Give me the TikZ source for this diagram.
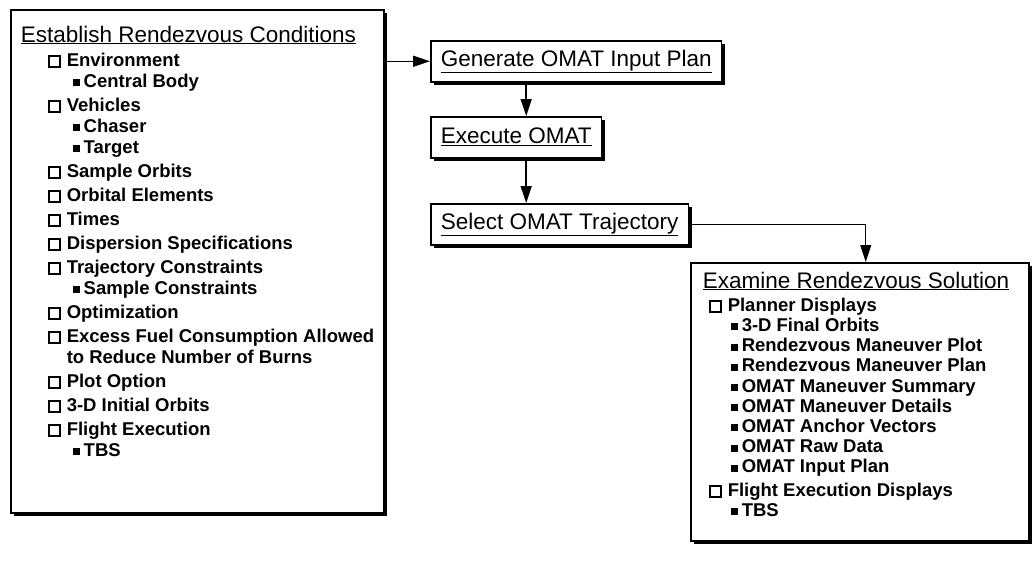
\documentclass[tikz,border=0pt]{standalone}
\usepackage{fontspec}
\setmainfont{Liberation Sans}
\usetikzlibrary{arrows.meta, shadows}

\newcommand{\titlefont}{\mdseries\fontsize{22.5}{24}\selectfont}
\newcommand{\itemfont}{\bfseries\fontsize{18.5}{21}\selectfont}
\newlength{\indT}\newlength{\indA}\newlength{\indB}
\newcommand{\chkbox}{{\setlength{\fboxrule}{2pt}\setlength{\fboxsep}{0pt}\fbox{\rule{0pt}{9pt}\rule{9pt}{0pt}}}}
\newcommand{\fillsq}{\raisebox{1pt}{\rule{7pt}{7pt}}}
\newcommand{\boxhead}[1]{\hspace*{\indT}\mbox{\titlefont\underline{#1}}\par}
\newcommand{\topline}[1]{\vspace{3pt}\hspace*{\indA}\chkbox\hspace{6pt}\mbox{#1}\par}
\newcommand{\moreline}[1]{\hspace*{\indA}\hspace{19pt}\mbox{#1}\par}
\newcommand{\subline}[1]{\hspace*{\indB}\fillsq\hspace{4pt}\mbox{#1}\par}

\tikzstyle{panel} = [draw, line width=1.5pt, fill=white, inner sep=0pt, anchor=north west,
  drop shadow={shadow xshift=3.5pt, shadow yshift=-3.5pt, fill=black, opacity=1}]
\tikzstyle{task} = [panel, minimum height=41pt, inner xsep=10pt, font=\titlefont]
\tikzstyle{arrow} = [line width=1.5pt, -{Triangle[length=17pt,width=11pt]}]

\begin{document}
\begin{tikzpicture}[x=1pt, y=-1pt]
  \useasboundingbox (0,0) rectangle (1033,573);

  % input conditions
  \node[panel] (cond) at (10,9) {\parbox[t][503pt][t]{373pt}{\itemfont\parindent=0pt
    \setlength{\indT}{10pt}\setlength{\indA}{37pt}\setlength{\indB}{62pt}
    \vspace*{16pt}
    \boxhead{Establish Rendezvous Conditions}
    \topline{Environment}
    \subline{Central Body}
    \topline{Vehicles}
    \subline{Chaser}
    \subline{Target}
    \topline{Sample Orbits}
    \topline{Orbital Elements}
    \topline{Times}
    \topline{Dispersion Specifications}
    \topline{Trajectory Constraints}
    \subline{Sample Constraints}
    \topline{Optimization}
    \topline{Excess Fuel Consumption Allowed}
    \moreline{to Reduce Number of Burns}
    \topline{Plot Option}
    \topline{3-D Initial Orbits}
    \topline{Flight Execution}
    \subline{TBS}}};

  % OMAT steps
  \node[task] (gen) at (430,40) {\underline{Generate OMAT Input Plan}};
  \node[task] (exec) at (430,116) {\underline{Execute OMAT}};
  \node[task] (sel) at (430,203) {\underline{Select OMAT Trajectory}};

  % results
  \node[panel] (exam) at (690,262) {\parbox[t][278pt][t]{338pt}{\itemfont\fontsize{18.5}{20.2}\selectfont\parindent=0pt
    \setlength{\indT}{12pt}\setlength{\indA}{18pt}\setlength{\indB}{40pt}
    \vspace*{9pt}
    \boxhead{Examine Rendezvous Solution}
    \topline{Planner Displays}
    \subline{3-D Final Orbits}
    \subline{Rendezvous Maneuver Plot}
    \subline{Rendezvous Maneuver Plan}
    \subline{OMAT Maneuver Summary}
    \subline{OMAT Maneuver Details}
    \subline{OMAT Anchor Vectors}
    \subline{OMAT Raw Data}
    \subline{OMAT Input Plan}
    \topline{Flight Execution Displays}
    \subline{TBS}}};

  \draw[arrow] (gen.west -| cond.east) -- (gen.west);
  \draw[arrow] ([xshift=10pt]exec.north |- gen.south) -- ([xshift=10pt]exec.north);
  \draw[arrow] ([xshift=10pt]exec.south) -- ([xshift=10pt]exec.south |- sel.north);
  \draw[arrow, line width=1pt] (sel.east) -| ([xshift=6pt]exam.north);
\end{tikzpicture}
\end{document}
